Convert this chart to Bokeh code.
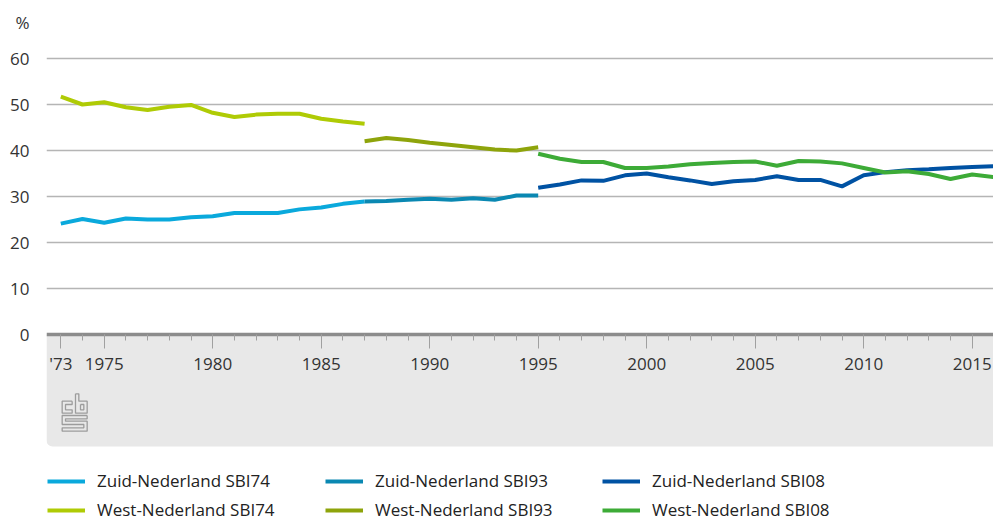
from bokeh.plotting import figure
from bokeh.models import Range1d, FixedTicker, BoxAnnotation, Legend, LegendItem
from bokeh.embed import file_html
from bokeh.resources import INLINE

# ---------------- data ----------------
years74 = list(range(1973, 1988))
zuid74 = [24.1, 25.1, 24.3, 25.2, 25.0, 25.0, 25.5, 25.7, 26.4, 26.4, 26.4, 27.2, 27.6, 28.4, 28.9]
west74 = [51.7, 50.0, 50.5, 49.4, 48.8, 49.5, 49.9, 48.2, 47.3, 47.8, 48.0, 48.0, 46.9, 46.3, 45.8]

years93 = list(range(1987, 1996))
zuid93 = [28.9, 29.0, 29.3, 29.5, 29.3, 29.6, 29.3, 30.2, 30.2]
west93 = [42.0, 42.7, 42.3, 41.7, 41.2, 40.7, 40.2, 40.0, 40.7]

years08 = list(range(1995, 2017))
zuid08 = [31.9, 32.6, 33.5, 33.4, 34.6, 35.0, 34.2, 33.5, 32.7, 33.3, 33.6,
          34.4, 33.6, 33.6, 32.2, 34.6, 35.3, 35.7, 35.9, 36.2, 36.4, 36.6]
west08 = [39.3, 38.2, 37.5, 37.5, 36.2, 36.2, 36.5, 37.0, 37.3, 37.5, 37.6,
          36.7, 37.7, 37.6, 37.2, 36.2, 35.2, 35.5, 34.9, 33.8, 34.8, 34.2]

x_major_ticks = [1973, 1975, 1980, 1985, 1990, 1995, 2000, 2005, 2010, 2015]
x_label_overrides = {1973: "'73"}
y_ticks = [0, 10, 20, 30, 40, 50, 60]
y_unit = "%"

series_labels = ["Zuid-Nederland SBI74", "West-Nederland SBI74",
                 "Zuid-Nederland SBI93", "West-Nederland SBI93",
                 "Zuid-Nederland SBI08", "West-Nederland SBI08"]
series_colors = ["#0aa9dc", "#afcb05", "#0a88b2", "#8ea40b", "#0052a3", "#3dab37"]

# ---------------- layout constants ----------------
FONT = "Open Sans"
TEXT = "#333333"
W, H = 993, 523
LEFT = 46                      # frame left border (px)
FRAME_W = W - LEFT
PX_PER_YEAR = 21.7
PX_PER_UNIT = 4.6
X0 = 1973 - (60.3 - LEFT) / PX_PER_YEAR
X1 = X0 + FRAME_W / PX_PER_YEAR
ZERO_PY = 334                  # pixel row of value 0 from top of figure
Y1 = ZERO_PY / PX_PER_UNIT
Y0 = Y1 - H / PX_PER_UNIT
BAND_BOTTOM = -(446 - ZERO_PY) / PX_PER_UNIT
UNIT_POS = (ZERO_PY - 22) / PX_PER_UNIT

p = figure(width=W, height=H, x_range=Range1d(X0, X1), y_range=Range1d(Y0, Y1),
           toolbar_location=None, output_backend="svg",
           min_border_left=LEFT, min_border_right=0, min_border_top=0, min_border_bottom=0,
           outline_line_color=None, background_fill_color="white", border_fill_color="white")

# grey band below the axis
band = BoxAnnotation(bottom=BAND_BOTTOM, top=0, fill_color="#e8e8e8", fill_alpha=1.0,
                     line_color=None, level="underlay", border_radius=(0, 0, 0, 6))
p.add_layout(band)

# grid
p.xgrid.visible = False
p.ygrid.ticker = FixedTicker(ticks=y_ticks[1:])
p.ygrid.grid_line_color = "#b5b5b5"
p.ygrid.grid_line_width = 1.5

# x axis at value 0
xa = p.xaxis[0]
xa.fixed_location = 0
xa.ticker = FixedTicker(ticks=x_major_ticks, minor_ticks=list(range(1973, 2017)))
xa.major_label_overrides = x_label_overrides
xa.axis_line_color = "#8c8c8c"
xa.axis_line_width = 3.5
xa.major_tick_line_color = "#a0a0a0"
xa.minor_tick_line_color = "#a0a0a0"
xa.major_tick_in = 0
xa.major_tick_out = 14
xa.minor_tick_in = 0
xa.minor_tick_out = 6
xa.major_label_standoff = 3
xa.major_label_text_font = FONT
xa.major_label_text_font_size = "17px"
xa.major_label_text_color = TEXT

# y axis (the unit "%" sits as the top label)
ya = p.yaxis[0]
ya.ticker = FixedTicker(ticks=y_ticks + [UNIT_POS])
ya.major_label_overrides = {UNIT_POS: y_unit}
ya.axis_line_color = None
ya.major_tick_line_color = None
ya.minor_tick_line_color = None
ya.major_tick_out = 0
ya.major_tick_in = 0
ya.minor_tick_out = 0
ya.minor_tick_in = 0
ya.major_label_standoff = 17
ya.major_label_text_font = FONT
ya.major_label_text_font_size = "17px"
ya.major_label_text_color = TEXT

# series
series = [(years74, zuid74), (years74, west74), (years93, zuid93),
          (years93, west93), (years08, zuid08), (years08, west08)]
renderers = []
for (xs, ys), col in zip(series, series_colors):
    r = p.line(xs, ys, line_color=col, line_width=4)
    renderers.append(r)

# cbs logo (decoration) drawn from pixel outlines
def dx(px):
    return X0 + (px - LEFT) / PX_PER_YEAR

def dy(py):
    return (ZERO_PY - py) / PX_PER_UNIT

logo_paths = [
    [(125, 62), (95, 62), (95, 98), (125, 98), (125, 88), (105, 88), (105, 72), (125, 72), (125, 62)],
    [(135, 40), (145, 40), (145, 62), (170, 62), (170, 98), (135, 98), (135, 40)],
    [(150, 72), (160, 72), (160, 88), (150, 88), (150, 72)],
    [(170, 105), (95, 105), (95, 132), (160, 132), (160, 142), (95, 142), (95, 152),
     (170, 152), (170, 122), (105, 122), (105, 115), (170, 115), (170, 105)],
]
lx = [[dx(30 + a / 3) for a, b in path] for path in logo_paths]
ly = [[dy(380 + b / 3) for a, b in path] for path in logo_paths]
p.multi_line(lx, ly, line_color="#9c9c9c", line_width=1.3)

# legends: three columns of two
col_x = [1, 279, 556]
for i in range(3):
    items = [LegendItem(label=series_labels[2 * i], renderers=[renderers[2 * i]]),
             LegendItem(label=series_labels[2 * i + 1], renderers=[renderers[2 * i + 1]])]
    lg = Legend(items=items, location=(col_x[i], 2), orientation="vertical",
                glyph_width=38, glyph_height=20, label_height=20, label_standoff=12,
                spacing=6, padding=0, margin=0, border_line_color=None,
                background_fill_alpha=0, label_text_font=FONT,
                label_text_font_size="17px", label_text_color="#222222")
    p.add_layout(lg)

open("out.html", "w").write(file_html(p, INLINE))
